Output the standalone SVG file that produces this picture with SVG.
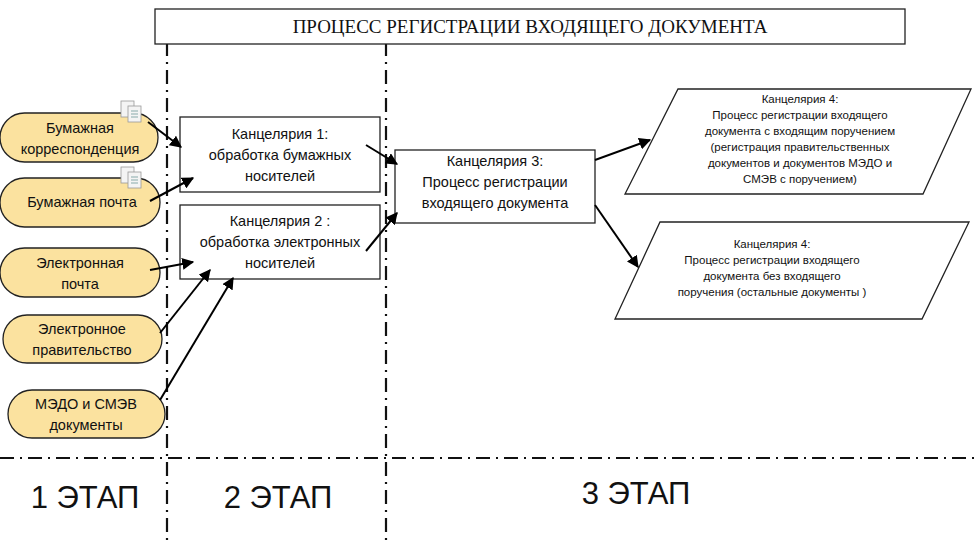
<svg xmlns="http://www.w3.org/2000/svg" width="977" height="541" viewBox="0 0 977 541">
<style>
text{font-family:"Liberation Sans",Arial,sans-serif;fill:#111;text-anchor:middle}
.o{fill:#fbe29f;stroke:#222;stroke-width:1.3}
.b{fill:#fff;stroke:#222;stroke-width:1.3}
.t{font-size:14.5px}
.s{font-size:11.5px}
.st{font-size:31px}
.dd{stroke:#111;stroke-width:2.2;stroke-dasharray:14 6 2 6;fill:none}
.a{stroke:#000;stroke-width:2;fill:none;marker-end:url(#ah)}
.doc{fill:#f4f4f4;stroke:#999;stroke-width:0.8}
</style>
<defs>
<marker id="ah" viewBox="0 0 10 10" refX="9" refY="5" markerWidth="6" markerHeight="6" orient="auto" markerUnits="strokeWidth"><path d="M0,0 L10,5 L0,10 z" fill="#000"/></marker>
<g id="docicon"><rect class="doc" x="0" y="0" width="13" height="16"/><rect class="doc" x="7" y="5" width="13" height="16"/><path d="M10,10h7M10,13h7M10,16h7" stroke="#8aa" stroke-width="1"/></g>
</defs>
<rect width="977" height="541" fill="#fff"/>
<g id="lines">
<path class="dd" d="M167,42V541M386,42V541M0,458H977"/>
</g>
<g id="title"><rect class="b" x="155" y="9" width="750" height="35"/><text x="530" y="33" style="font-family:'Liberation Serif',serif;font-size:19px">ПРОЦЕСС РЕГИСТРАЦИИ ВХОДЯЩЕГО ДОКУМЕНТА</text></g>
<g id="src1"><rect class="o" x="0" y="113" width="158" height="49" rx="24.5"/><text class="t" x="80" y="133">Бумажная</text><text class="t" x="80" y="154">корреспонденция</text><use href="#docicon" x="121" y="101"/></g>
<g id="src2"><rect class="o" x="0" y="178" width="160" height="49" rx="24.5"/><text class="t" x="82" y="207">Бумажная почта</text><use href="#docicon" x="121" y="167"/></g>
<g id="src3"><rect class="o" x="0" y="248" width="160" height="49" rx="24.5"/><text class="t" x="80" y="268">Электронная</text><text class="t" x="80" y="289">почта</text></g>
<g id="src4"><rect class="o" x="3" y="315" width="159" height="48" rx="24"/><text class="t" x="82" y="334">Электронное</text><text class="t" x="82" y="355">правительство</text></g>
<g id="src5"><rect class="o" x="8" y="390" width="157" height="48" rx="24"/><text class="t" x="86" y="409">МЭДО и СМЭВ</text><text class="t" x="86" y="430">документы</text></g>
<g id="k1"><rect class="b" x="180" y="117" width="200" height="75"/><text class="t" x="280" y="139">Канцелярия 1:</text><text class="t" x="280" y="160">обработка бумажных</text><text class="t" x="280" y="181">носителей</text></g>
<g id="k2"><rect class="b" x="180" y="205" width="200" height="74"/><text class="t" x="280" y="226">Канцелярия 2 :</text><text class="t" x="280" y="247">обработка электронных</text><text class="t" x="280" y="268">носителей</text></g>
<g id="k3"><rect class="b" x="395" y="150" width="200" height="73"/><text class="t" x="495" y="166">Канцелярия 3:</text><text class="t" x="495" y="187">Процесс регистрации</text><text class="t" x="495" y="208">входящего документа</text></g>
<g id="k4a"><polygon class="b" points="678,89 971,89 923,194 625,194"/><text class="s" x="800" y="103">Канцелярия 4:</text><text class="s" x="800" y="119">Процесс регистрации входящего</text><text class="s" x="800" y="135">документа с входящим поручением</text><text class="s" x="800" y="151">(регистрация правительственных</text><text class="s" x="800" y="167">документов и документов МЭДО и</text><text class="s" x="800" y="183">СМЭВ с поручением)</text></g>
<g id="k4b"><polygon class="b" points="660,222 969,222 922,319 615,319"/><text class="s" x="772" y="248">Канцелярия 4:</text><text class="s" x="772" y="264">Процесс регистрации входящего</text><text class="s" x="772" y="280">документа без входящего</text><text class="s" x="772" y="296">поручения (остальные документы )</text></g>
<g id="connectors">
<path class="a" d="M148,122L181,147"/>
<path class="a" d="M150,201L193,178"/>
<path class="a" d="M150,270L193,262"/>
<path class="a" d="M160,333L210,270"/>
<path class="a" d="M160,400L233,278"/>
<path class="a" d="M366,145L397,164"/>
<path class="a" d="M366,251L397,213"/>
<path class="a" d="M595,160L650,140"/>
<path class="a" d="M595,205L638,267"/>
</g>
<g id="stages"><text class="st" x="85" y="508">1 ЭТАП</text><text class="st" x="278" y="508">2 ЭТАП</text><text class="st" x="636" y="504">3 ЭТАП</text></g>
</svg>
